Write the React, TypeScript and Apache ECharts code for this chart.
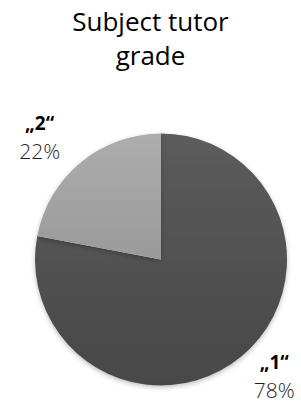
import React, { useEffect, useRef } from "react";
import * as echarts from "echarts";

const categories = ["„1“", "„2“"];
const values = [78, 22];
const percentLabels = ["78%", "22%"];
const titleText = "Subject tutor\ngrade";

const FONT = "'Open Sans', 'Noto Sans', sans-serif";

export default function App() {
  const ref = useRef<HTMLDivElement>(null);
  useEffect(() => {
    if (!ref.current) return;
    const chart = echarts.init(ref.current, null, { renderer: "svg" });
    const fills = [
      new echarts.graphic.LinearGradient(0, 0, 0, 1, [
        { offset: 0, color: "#5c5c5c" },
        { offset: 1, color: "#474747" },
      ]),
      new echarts.graphic.LinearGradient(0, 0, 0, 1, [
        { offset: 0, color: "#adadad" },
        { offset: 1, color: "#9a9a9a" },
      ]),
    ];
    const lines = [
      { length: 25, length2: 12 },
      { length: 33, length2: 15 },
    ];
    chart.setOption({
      animation: false,
      backgroundColor: "#ffffff",
      title: {
        text: titleText,
        left: "center",
        top: -1,
        textStyle: {
          fontFamily: FONT,
          fontSize: 26,
          fontWeight: "normal",
          lineHeight: 34,
          color: "#000000",
        },
      },
      series: [
        {
          type: "pie",
          center: [161, 259.5],
          radius: 126,
          startAngle: 90,
          clockwise: true,
          avoidLabelOverlap: false,
          label: {
            show: true,
            position: "outside",
            width: 70,
            formatter: (p: any) => `{n|${p.name}}\n{p|${percentLabels[p.dataIndex]}}`,
            rich: {
              n: {
                fontFamily: FONT,
                fontSize: 19,
                fontWeight: "bold",
                color: "#000000",
                lineHeight: 28,
                align: "center",
              },
              p: {
                fontFamily: FONT,
                fontSize: 21,
                fontWeight: 300,
                color: "#1f1f1f",
                lineHeight: 28,
                align: "center",
              },
            },
          },
          labelLayout: { align: "center", verticalAlign: "middle" },
          data: categories.map((c, i) => ({
            name: c,
            value: values[i],
            itemStyle: {
              color: fills[i],
              shadowBlur: 5,
              shadowColor: "rgba(0,0,0,0.25)",
              shadowOffsetY: 2,
            },
            labelLine: { show: false, ...lines[i] },
          })),
        },
      ],
    });
    return () => chart.dispose();
  }, []);
  return (
    <div
      ref={ref}
      style={{ position: "fixed", left: 0, top: 0, width: 301, height: 403 }}
    />
  );
}
